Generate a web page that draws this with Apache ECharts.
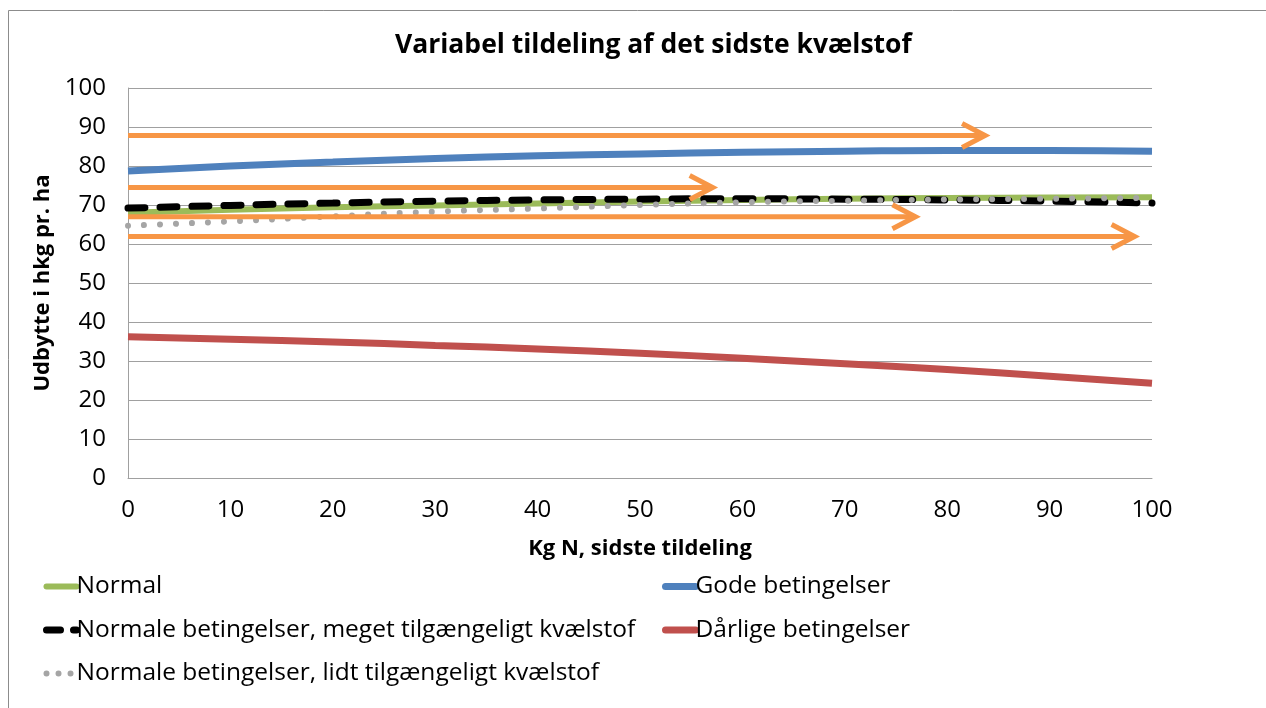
<!DOCTYPE html>
<html>
<head>
<meta charset="utf-8">
<script src="https://cdn.jsdelivr.net/npm/echarts@6/dist/echarts.min.js"></script>
<style>html,body{margin:0;padding:0;background:#fff;}#c{width:1266px;height:708px;}</style>
</head>
<body>
<div id="c"></div>
<script>
var xValues = [0, 10, 20, 30, 40, 50, 60, 70, 80, 90, 100];
var normal = [68.0, 68.8, 69.4, 69.9, 70.4, 70.9, 71.3, 71.6, 71.8, 71.9, 72.0];
var gode = [78.7, 80.0, 81.0, 81.9, 82.6, 83.1, 83.5, 83.8, 84.0, 84.0, 83.8];
var meget = [69.2, 69.9, 70.5, 71.0, 71.3, 71.5, 71.6, 71.5, 71.3, 71.0, 70.5];
var daarlige = [36.2, 35.6, 34.9, 34.0, 33.1, 32.0, 30.7, 29.3, 27.8, 26.1, 24.3];
var lidt = [64.7, 65.8, 67.1, 68.3, 69.1, 70.0, 70.7, 71.1, 71.4, 71.6, 71.8];
// orange arrows drawn on the chart: level (y) and end point (x)
var arrowY = [87.8, 74.5, 67.0, 61.9];
var arrowStartX = [0, 0, 0, 0];
var arrowEndX = [83.7, 57.1, 76.9, 98.3];

var names = {
  normal: 'Normal',
  gode: 'Gode betingelser',
  meget: 'Normale betingelser, meget tilgængeligt kvælstof',
  daarlige: 'Dårlige betingelser',
  lidt: 'Normale betingelser, lidt tilgængeligt kvælstof'
};

function pairs(vals) { return xValues.map(function (x, i) { return [x, vals[i]]; }); }
var arrowData = arrowY.map(function (y, i) { return [arrowStartX[i], arrowEndX[i], y]; });

var FONT = 'Open Sans';
var legendBase = {
  top: 574, padding: 0, orient: 'vertical', itemGap: 18.5, itemWidth: 30, itemHeight: 26,
  itemStyle: { opacity: 0 },
  lineStyle: { width: 'inherit', cap: 'round' },
  textStyle: { fontFamily: FONT, fontSize: 24.5, color: '#000', padding: [0, 0, 0, -5] }
};
var chart = echarts.init(document.getElementById('c'));
chart.setOption({
  animation: false,
  backgroundColor: '#fff',
  title: {
    text: 'Variabel tildeling af det sidste kvælstof',
    left: 390, top: 27,
    textStyle: { fontFamily: FONT, fontSize: 26.5, fontWeight: 'bold', color: '#000' }
  },
  graphic: [{
    type: 'rect', shape: { x: 8.5, y: 10.5, width: 1300, height: 720 },
    style: { fill: null, stroke: '#8c8c8c', lineWidth: 1 }, silent: true, z: -1
  }],
  grid: { left: 128, right: 114, top: 88, bottom: 230 },
  legend: [
    Object.assign({}, legendBase, { left: 43, data: [
      { name: names.normal },
      { name: names.meget, lineStyle: { type: [14, 13] } },
      { name: names.lidt, lineStyle: { type: [0.01, 12] } }
    ] }),
    Object.assign({}, legendBase, { left: 662, data: [names.gode, names.daarlige] })
  ],
  xAxis: {
    type: 'value', min: 0, max: 100, interval: 10,
    name: 'Kg N, sidste tildeling', nameLocation: 'middle', nameGap: 60,
    nameTextStyle: { fontFamily: FONT, fontSize: 22, fontWeight: 'bold', color: '#000' },
    axisLine: { lineStyle: { color: '#a0a0a0', width: 1 } },
    axisTick: { show: false },
    splitLine: { show: false },
    axisLabel: { fontFamily: FONT, fontSize: 24, color: '#000', margin: 20 }
  },
  yAxis: {
    type: 'value', min: 0, max: 100, interval: 10,
    name: 'Udbytte i hkg pr. ha', nameLocation: 'middle', nameGap: 71,
    nameTextStyle: { fontFamily: FONT, fontSize: 22, fontWeight: 'bold', color: '#000' },
    axisLine: { show: true, lineStyle: { color: '#a0a0a0', width: 1 } },
    axisTick: { show: false },
    splitLine: { lineStyle: { color: '#a0a0a0', width: 1 } },
    axisLabel: { fontFamily: FONT, fontSize: 24, color: '#000', margin: 22 }
  },
  series: [
    { name: names.normal, type: 'line', data: pairs(normal), smooth: true, symbol: 'none', z: 2,
      lineStyle: { color: '#9BBB59', width: 6 }, itemStyle: { color: '#9BBB59' } },
    { name: names.meget, type: 'line', data: pairs(meget), smooth: true, symbol: 'none', z: 3,
      lineStyle: { color: '#000', width: 7, type: [17, 15], cap: 'round' }, itemStyle: { color: '#000' } },
    { name: names.lidt, type: 'line', data: pairs(lidt), smooth: true, symbol: 'none', z: 4,
      lineStyle: { color: '#A5A5A5', width: 6, type: [0.01, 16], cap: 'round' }, itemStyle: { color: '#A5A5A5' } },
    { name: names.gode, type: 'line', data: pairs(gode), smooth: true, symbol: 'none', z: 2,
      lineStyle: { color: '#4F81BD', width: 7 }, itemStyle: { color: '#4F81BD' } },
    { name: names.daarlige, type: 'line', data: pairs(daarlige), smooth: true, symbol: 'none', z: 2,
      lineStyle: { color: '#C0504D', width: 7 }, itemStyle: { color: '#C0504D' } },
    { name: 'arrows', type: 'custom', data: arrowData, z: 10, silent: true,
      renderItem: function (params, api) {
        var p0 = api.coord([api.value(0), api.value(2)]);
        var p1 = api.coord([api.value(1), api.value(2)]);
        var st = { stroke: '#F79646', lineWidth: 5, fill: null, lineJoin: 'miter' };
        return { type: 'group', children: [
          { type: 'line', shape: { x1: p0[0], y1: p0[1], x2: p1[0] - 2, y2: p1[1] }, style: st },
          { type: 'polyline', shape: { points: [[p1[0] - 23, p1[1] - 12], [p1[0], p1[1]], [p1[0] - 23, p1[1] + 12]] }, style: st }
        ] };
      } }
  ]
});
</script>
</body>
</html>
